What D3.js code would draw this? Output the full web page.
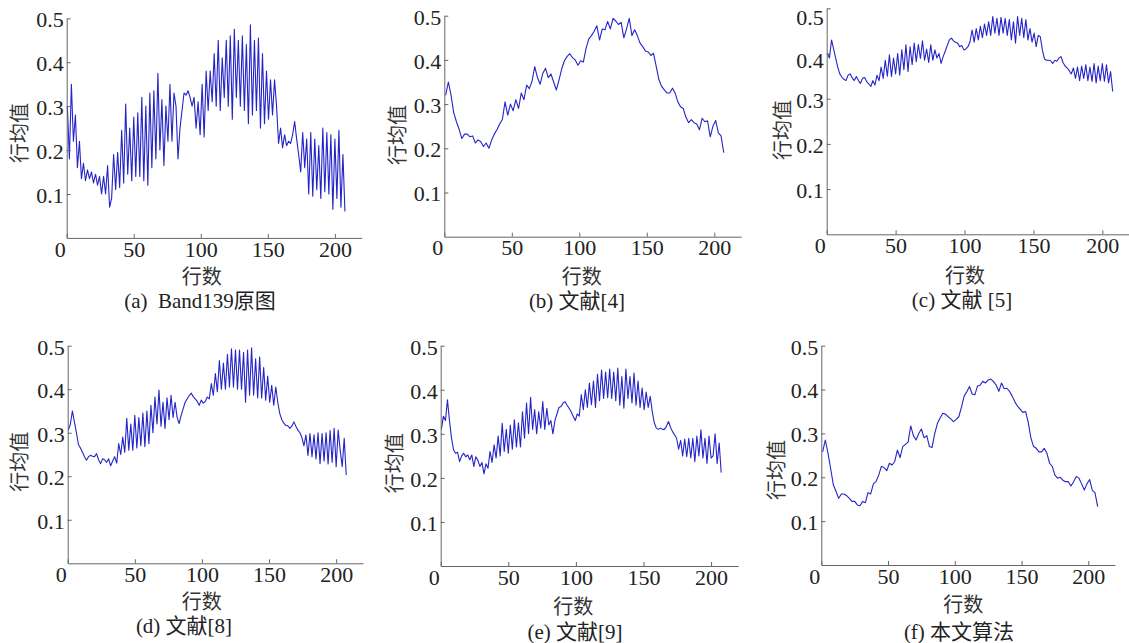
<!DOCTYPE html>
<html>
<head>
<meta charset="utf-8">
<script src="https://cdn.jsdelivr.net/npm/d3@7"></script>
<style>
  body { margin: 0; background: #fff; }
  .num { font-family: "Liberation Serif", "DejaVu Serif", "Times New Roman", serif; }
  .cjk { font-family: "Noto Sans CJK SC", sans-serif; }
  .cap { font-family: "Liberation Serif", "DejaVu Serif", "Noto Sans CJK SC", serif; white-space: pre; }
</style>
</head>
<body>
<div class="canvas"></div>
<script>
// row mean values
// (a), (c), (d), (e): one value every 1.5 rows starting at row 0.5
const band139 = [
  0.30, 0.18, 0.35, 0.22, 0.28, 0.16, 0.22, 0.135, 0.17, 0.13,
  0.155, 0.135, 0.15, 0.125, 0.145, 0.12, 0.14, 0.10, 0.14, 0.10,
  0.165, 0.07, 0.09, 0.19, 0.11, 0.195, 0.115, 0.245, 0.125, 0.305,
  0.145, 0.25, 0.13, 0.275, 0.14, 0.285, 0.14, 0.32, 0.13, 0.30,
  0.12, 0.33, 0.16, 0.335, 0.18, 0.375, 0.20, 0.315, 0.165, 0.30,
  0.22, 0.35, 0.22, 0.33, 0.30, 0.18, 0.25, 0.29, 0.33, 0.325,
  0.335, 0.32, 0.30, 0.32, 0.25, 0.31, 0.235, 0.35, 0.23, 0.38,
  0.29, 0.38, 0.31, 0.42, 0.30, 0.45, 0.29, 0.41, 0.32, 0.45,
  0.30, 0.46, 0.27, 0.475, 0.32, 0.45, 0.30, 0.46, 0.29, 0.44,
  0.26, 0.485, 0.28, 0.45, 0.29, 0.455, 0.25, 0.42, 0.26, 0.38,
  0.27, 0.36, 0.28, 0.36, 0.30, 0.215, 0.25, 0.205, 0.235, 0.21,
  0.22, 0.215, 0.235, 0.265, 0.225, 0.19, 0.15, 0.24, 0.16, 0.225,
  0.10, 0.24, 0.095, 0.225, 0.11, 0.21, 0.09, 0.25, 0.105, 0.24,
  0.10, 0.235, 0.065, 0.225, 0.09, 0.245, 0.07, 0.19, 0.06
];

const ref5 = [
  0.40, 0.39, 0.43, 0.41, 0.39, 0.37, 0.355, 0.348, 0.343, 0.34,
  0.352, 0.355, 0.346, 0.34, 0.349, 0.34, 0.334, 0.345, 0.347, 0.338,
  0.333, 0.327, 0.34, 0.33, 0.352, 0.34, 0.37, 0.345, 0.385, 0.35,
  0.397, 0.349, 0.39, 0.355, 0.40, 0.352, 0.408, 0.364, 0.419, 0.36,
  0.415, 0.375, 0.423, 0.382, 0.42, 0.389, 0.428, 0.385, 0.41, 0.38,
  0.419, 0.385, 0.408, 0.39, 0.40, 0.378, 0.393, 0.405, 0.418, 0.43,
  0.434, 0.428, 0.425, 0.423, 0.415, 0.418, 0.408, 0.41, 0.415, 0.426,
  0.452, 0.425, 0.455, 0.43, 0.46, 0.435, 0.465, 0.44, 0.47, 0.44,
  0.482, 0.445, 0.478, 0.44, 0.48, 0.445, 0.478, 0.44, 0.475, 0.43,
  0.47, 0.423, 0.482, 0.44, 0.478, 0.435, 0.475, 0.43, 0.455, 0.425,
  0.445, 0.415, 0.44, 0.437, 0.408, 0.388, 0.385, 0.385, 0.384, 0.378,
  0.385, 0.383, 0.39, 0.393, 0.38, 0.372, 0.368, 0.362, 0.355, 0.368,
  0.345, 0.37, 0.34, 0.372, 0.345, 0.375, 0.34, 0.37, 0.338, 0.378,
  0.335, 0.372, 0.34, 0.378, 0.338, 0.375, 0.335, 0.36, 0.316
];

const ref8 = [
  0.306, 0.32, 0.35, 0.325, 0.30, 0.273, 0.265, 0.255, 0.245, 0.237,
  0.245, 0.248, 0.246, 0.245, 0.252, 0.238, 0.229, 0.24, 0.238, 0.232,
  0.24, 0.224, 0.235, 0.245, 0.23, 0.275, 0.25, 0.29, 0.255, 0.333,
  0.26, 0.32, 0.26, 0.34, 0.265, 0.335, 0.27, 0.345, 0.268, 0.35,
  0.275, 0.363, 0.30, 0.382, 0.32, 0.398, 0.315, 0.37, 0.31, 0.38,
  0.33, 0.386, 0.335, 0.37, 0.336, 0.321, 0.34, 0.355, 0.37, 0.378,
  0.385, 0.391, 0.383, 0.378, 0.372, 0.363, 0.375, 0.368, 0.372, 0.382,
  0.378, 0.413, 0.386, 0.436, 0.394, 0.466, 0.40, 0.46, 0.40, 0.48,
  0.405, 0.493, 0.405, 0.49, 0.40, 0.49, 0.40, 0.485, 0.37, 0.49,
  0.386, 0.495, 0.386, 0.47, 0.38, 0.474, 0.38, 0.45, 0.375, 0.43,
  0.37, 0.409, 0.363, 0.405, 0.37, 0.344, 0.33, 0.322, 0.317, 0.316,
  0.31, 0.315, 0.325, 0.315, 0.306, 0.30, 0.289, 0.27, 0.295, 0.248,
  0.298, 0.245, 0.295, 0.24, 0.30, 0.229, 0.298, 0.235, 0.30, 0.228,
  0.305, 0.232, 0.31, 0.222, 0.306, 0.26, 0.222, 0.287, 0.203
];

const ref9 = [
  0.31, 0.34, 0.33, 0.377, 0.33, 0.29, 0.264, 0.256, 0.258, 0.237,
  0.25, 0.256, 0.248, 0.252, 0.241, 0.252, 0.226, 0.248, 0.24, 0.226,
  0.235, 0.209, 0.232, 0.222, 0.26, 0.235, 0.275, 0.245, 0.295, 0.25,
  0.324, 0.26, 0.31, 0.256, 0.32, 0.265, 0.332, 0.27, 0.325, 0.27,
  0.35, 0.29, 0.37, 0.30, 0.383, 0.31, 0.355, 0.30, 0.35, 0.313,
  0.373, 0.31, 0.358, 0.32, 0.33, 0.30, 0.33, 0.345, 0.36, 0.362,
  0.37, 0.373, 0.365, 0.358, 0.35, 0.34, 0.33, 0.345, 0.34, 0.389,
  0.355, 0.40, 0.36, 0.415, 0.366, 0.42, 0.36, 0.435, 0.375, 0.445,
  0.38, 0.44, 0.382, 0.447, 0.38, 0.44, 0.375, 0.449, 0.365, 0.43,
  0.358, 0.447, 0.38, 0.43, 0.37, 0.438, 0.365, 0.42, 0.36, 0.404,
  0.355, 0.395, 0.36, 0.385, 0.35, 0.325, 0.313, 0.31, 0.313, 0.31,
  0.31, 0.317, 0.328, 0.315, 0.305, 0.298, 0.29, 0.265, 0.285, 0.25,
  0.288, 0.248, 0.29, 0.245, 0.29, 0.237, 0.295, 0.25, 0.309, 0.245,
  0.29, 0.233, 0.295, 0.245, 0.25, 0.30, 0.232, 0.279, 0.212
];

// (b), (f): one value every 2 rows starting at row 1
const ref4 = [
  0.32, 0.35, 0.32, 0.28, 0.26, 0.243, 0.222, 0.232, 0.232, 0.226,
  0.228, 0.212, 0.219, 0.215, 0.204, 0.212, 0.2, 0.218, 0.232, 0.242,
  0.255, 0.265, 0.305, 0.275, 0.30, 0.285, 0.31, 0.29, 0.325, 0.31,
  0.343, 0.335, 0.352, 0.385, 0.36, 0.345, 0.37, 0.381, 0.36, 0.368,
  0.35, 0.332, 0.355, 0.38, 0.398, 0.408, 0.414, 0.405, 0.40, 0.388,
  0.398, 0.395, 0.426, 0.447, 0.455, 0.465, 0.477, 0.445, 0.47, 0.468,
  0.487, 0.47, 0.494, 0.488, 0.48, 0.485, 0.45, 0.47, 0.494, 0.455,
  0.468, 0.455, 0.438, 0.43, 0.42, 0.418, 0.41, 0.415, 0.385, 0.355,
  0.34, 0.332, 0.325, 0.325, 0.336, 0.325, 0.305, 0.294, 0.29, 0.27,
  0.258, 0.265, 0.258, 0.255, 0.242, 0.268, 0.26, 0.262, 0.226, 0.25,
  0.263, 0.235, 0.228, 0.19
];

const ours = [
  0.258, 0.285, 0.255, 0.22, 0.183, 0.168, 0.152, 0.162, 0.162, 0.158,
  0.152, 0.145, 0.145, 0.137, 0.135, 0.145, 0.142, 0.165, 0.162, 0.185,
  0.19, 0.205, 0.225, 0.222, 0.215, 0.232, 0.228, 0.236, 0.262, 0.245,
  0.27, 0.275, 0.28, 0.317, 0.295, 0.285, 0.30, 0.31, 0.29, 0.295,
  0.27, 0.268, 0.30, 0.323, 0.335, 0.346, 0.344, 0.338, 0.333, 0.327,
  0.332, 0.338, 0.36, 0.385, 0.395, 0.407, 0.39, 0.388, 0.408, 0.41,
  0.419, 0.415, 0.422, 0.424, 0.418, 0.41, 0.396, 0.415, 0.402, 0.403,
  0.396, 0.385, 0.372, 0.362, 0.355, 0.348, 0.35, 0.325, 0.29, 0.27,
  0.266, 0.258, 0.258, 0.266, 0.255, 0.232, 0.225, 0.205, 0.198, 0.2,
  0.193, 0.19, 0.19, 0.18, 0.19, 0.202, 0.198, 0.185, 0.171, 0.185,
  0.195, 0.17, 0.165, 0.133
];

const xTicks = [0, 50, 100, 150, 200];
const yTicks = [0.1, 0.2, 0.3, 0.4, 0.5];
const xDomain = [0, 220];
const yDomain = [0, 0.5];
const xTitle = "行数";
const yTitle = "行均值";
const captions = ["(a)  Band139原图", "(b) 文献[4]", "(c) 文献 [5]", "(d) 文献[8]", "(e) 文献[9]", "(f) 本文算法"];

// panel layout (pixel positions of each small plot)
const panels = [
  { values: band139, start: 0.5, step: 1.5, x0: 66.7, x1: 361.7, y0: 237.9, y1: 18.3, xLab: [201.7, 275], yLab: [18.3, 133], cap: [200, 301] },
  { values: ref4, start: 1, step: 2, x0: 444.3, x1: 741.3, y0: 236.7, y1: 15.7, xLab: [581.7, 275], yLab: [396.7, 135], cap: [577, 301] },
  { values: ref5, start: 0.5, step: 1.5, x0: 826.7, x1: 1129.9, y0: 234.3, y1: 8.3, xLab: [965, 274], yLab: [781.7, 130], cap: [962, 300], labShift: { 0.5: 8, 0.4: 6 } },
  { values: ref8, start: 0.5, step: 1.5, x0: 67.7, x1: 363, y0: 563.3, y1: 345.7, xLab: [201.7, 600], yLab: [18, 461.7], cap: [184, 625.5] },
  { values: ref9, start: 0.5, step: 1.5, x0: 440.7, x1: 738.1, y0: 566, y1: 345.7, xLab: [573.3, 605], yLab: [393.3, 463.3], cap: [575, 631.7] },
  { values: ours, start: 1, step: 2, x0: 821.3, x1: 1115, y0: 565, y1: 345.7, xLab: [963.3, 603.3], yLab: [775, 470], cap: [959, 631.7] }
];

const svg = d3
  .select(".canvas")
  .append("svg")
  .attr("width", 1129)
  .attr("height", 643)
  .style("display", "block");

panels.forEach((p, k) => {
  const x = d3.scaleLinear().domain(xDomain).range([p.x0, p.x1]);
  const y = d3.scaleLinear().domain(yDomain).range([p.y0, p.y1]);

  const g = svg.append("g").attr("class", "panel");

  // curve
  const line = d3
    .line()
    .x((d, i) => x(p.start + p.step * i))
    .y((d) => y(d));

  g.append("path")
    .datum(p.values)
    .attr("fill", "none")
    .attr("stroke", "#2424c8")
    .attr("stroke-width", 1.1)
    .attr("stroke-linejoin", "round")
    .attr("d", line);

  // axes, ticks pointing inward
  const xAxis = d3.axisBottom(x).tickValues(xTicks).tickSizeInner(-4).tickSizeOuter(0).tickPadding(3);
  const yAxis = d3
    .axisLeft(y)
    .tickValues(yTicks)
    .tickSizeInner(-4)
    .tickSizeOuter(0)
    .tickPadding(3)
    .tickFormat(d3.format(".1f"));

  const xg = g.append("g").attr("transform", `translate(0,${p.y0})`).call(xAxis);
  const yg = g.append("g").attr("transform", `translate(${p.x0},0)`).call(yAxis);

  [xg, yg].forEach((a) => {
    a.attr("font-family", null).attr("font-size", null).attr("class", "num").style("font-size", "22px");
    a.select(".domain").attr("stroke", "#666").attr("stroke-width", 1);
    a.selectAll(".tick line").attr("stroke", "#666");
    a.selectAll(".tick text").attr("fill", "#222");
  });

  // y labels sit a little below their ticks
  yg.selectAll(".tick text")
    .attr("dy", "0.38em")
    .attr("y", (d) => (p.labShift && p.labShift[d]) || 0);

  // the "0" label sits left of the corner
  xg.selectAll(".tick text").filter((d) => d === 0).attr("dx", -7);

  // axis titles
  g.append("text")
    .attr("class", "cjk")
    .attr("x", p.xLab[0])
    .attr("y", p.xLab[1])
    .attr("text-anchor", "middle")
    .attr("dominant-baseline", "central")
    .style("font-size", "20px")
    .attr("fill", "#333")
    .text(xTitle);

  g.append("text")
    .attr("class", "cjk")
    .attr("transform", `translate(${p.yLab[0]},${p.yLab[1]}) rotate(-90)`)
    .attr("text-anchor", "middle")
    .attr("dominant-baseline", "central")
    .style("font-size", "20px")
    .attr("fill", "#333")
    .text(yTitle);

  // caption
  g.append("text")
    .attr("class", "cap")
    .attr("x", p.cap[0])
    .attr("y", p.cap[1])
    .attr("text-anchor", "middle")
    .attr("dominant-baseline", "central")
    .style("font-size", "21px")
    .attr("fill", "#222")
    .text(captions[k]);
});
</script>
</body>
</html>
